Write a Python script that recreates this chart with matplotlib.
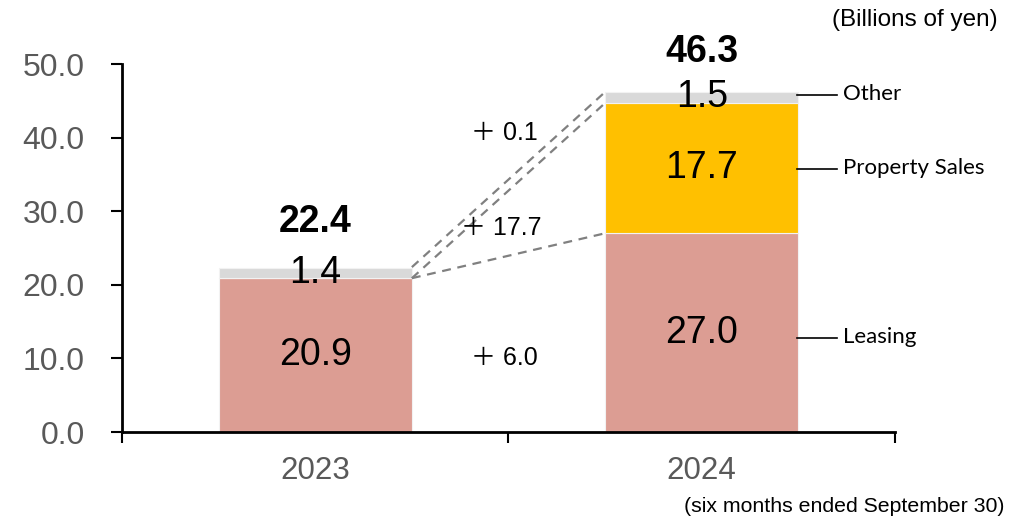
import matplotlib
matplotlib.use("Agg")
import matplotlib.pyplot as plt
import numpy as np

plt.rcParams['font.family'] = ['Liberation Sans', 'DejaVu Sans']

years = ["2023", "2024"]
leasing = [20.9, 27.0]
property_sales = [0.0, 17.7]
other = [1.4, 1.5]
totals = [22.4, 46.3]
changes = ["＋ 6.0", "＋ 17.7", "＋ 0.1"]
segment_names = ["Leasing", "Property Sales", "Other"]
yticks = [0, 10, 20, 30, 40, 50]

c_leasing = "#DC9D93"
c_prop = "#FFC000"
c_other = "#D9D9D9"

fig = plt.figure(figsize=(10.17, 5.19), dpi=100)
ax = fig.add_axes([122/1017, 1-432/519, (895-122)/1017, (432-64)/519])

x = np.array([0.5, 1.5])
w = 0.5
lea = np.array(leasing)
pro = np.array(property_sales)
oth = np.array(other)
ax.bar(x, lea, w, color=c_leasing, edgecolor="#f2f2f2", linewidth=0.8, zorder=2)
ax.bar(x, pro, w, bottom=lea, color=c_prop, edgecolor="#f2f2f2", linewidth=0.8, zorder=2)
ax.bar(x, oth, w, bottom=lea + pro, color=c_other, edgecolor="#f2f2f2", linewidth=0.8, zorder=2)

ax.set_xlim(0, 2)
ax.set_ylim(0, 50)
ax.set_yticks(yticks)
ax.set_yticklabels([f"{v:.1f}" for v in yticks], fontsize=23, color="#595959")
ax.set_xticks([0, 1, 2])
ax.set_xticklabels([])
ax.set_xticks(x, minor=True)
ax.set_xticklabels(years, minor=True, fontsize=22.5, color="#595959")
ax.tick_params(axis="x", which="minor", length=0, pad=17)
ax.tick_params(axis="x", which="major", length=8, width=1.5, direction="out")
ax.tick_params(axis="y", length=8, width=1.5, direction="out", pad=19)
for s in ["top", "right"]:
    ax.spines[s].set_visible(False)
for s in ["left", "bottom"]:
    ax.spines[s].set_linewidth(2)
    ax.spines[s].set_color("black")

# segment labels
for i in range(2):
    ax.text(x[i], lea[i] / 2, f"{lea[i]:.1f}", ha="center", va="center", fontsize=27, zorder=4)
    if pro[i] > 0:
        ax.text(x[i], lea[i] + pro[i] / 2, f"{pro[i]:.1f}", ha="center", va="center", fontsize=27, zorder=4)
    ax.text(x[i], lea[i] + pro[i] + oth[i] / 2, f"{oth[i]:.1f}", ha="center", va="center", fontsize=27, zorder=4)
    top = lea[i] + pro[i] + oth[i]
    ax.annotate(f"{totals[i]:.1f}", (x[i], top), xytext=(0, 33 if i == 0 else 29),
                textcoords="offset points", ha="center", va="center",
                fontsize=27, fontweight="bold")

# bridge lines
x0 = x[0] + w / 2
x1 = x[1] - w / 2
y0 = [lea[0], lea[0] + pro[0], totals[0]]
y1 = [lea[1], lea[1] + pro[1], lea[1] + pro[1] + oth[1]]
for a, b in zip(y0, y1):
    ax.plot([x0, x1], [a, b], ls=(0, (4, 3)), color="#808080", lw=1.6, zorder=3)

# change annotations
change_pos = [(0.99, 10.0), (0.98, 27.7), (0.99, 40.6)]
for t, (cx, cy) in zip(changes, change_pos):
    ax.text(cx, cy, t, ha="center", va="center", fontsize=18,
            family=["Liberation Sans", "Noto Sans CJK JP"])

# leader lines
leader_y = [12.8, 35.7, 45.8]
for name, ly in zip(segment_names, leader_y):
    ax.plot([1.746, 1.85], [ly, ly], color="black", lw=1.2, clip_on=False)
    ax.text(1.866, ly + 0.15, name, ha="left", va="center", fontsize=16, family="Lato")

fig.text(998/1017, 1 - 20/519, "(Billions of yen)", ha="right", va="center", fontsize=17.5)
fig.text(1005/1017, 1 - 506/519, "(six months ended September 30)", ha="right", va="center", fontsize=15.3)

fig.savefig("out.png", dpi=100)
